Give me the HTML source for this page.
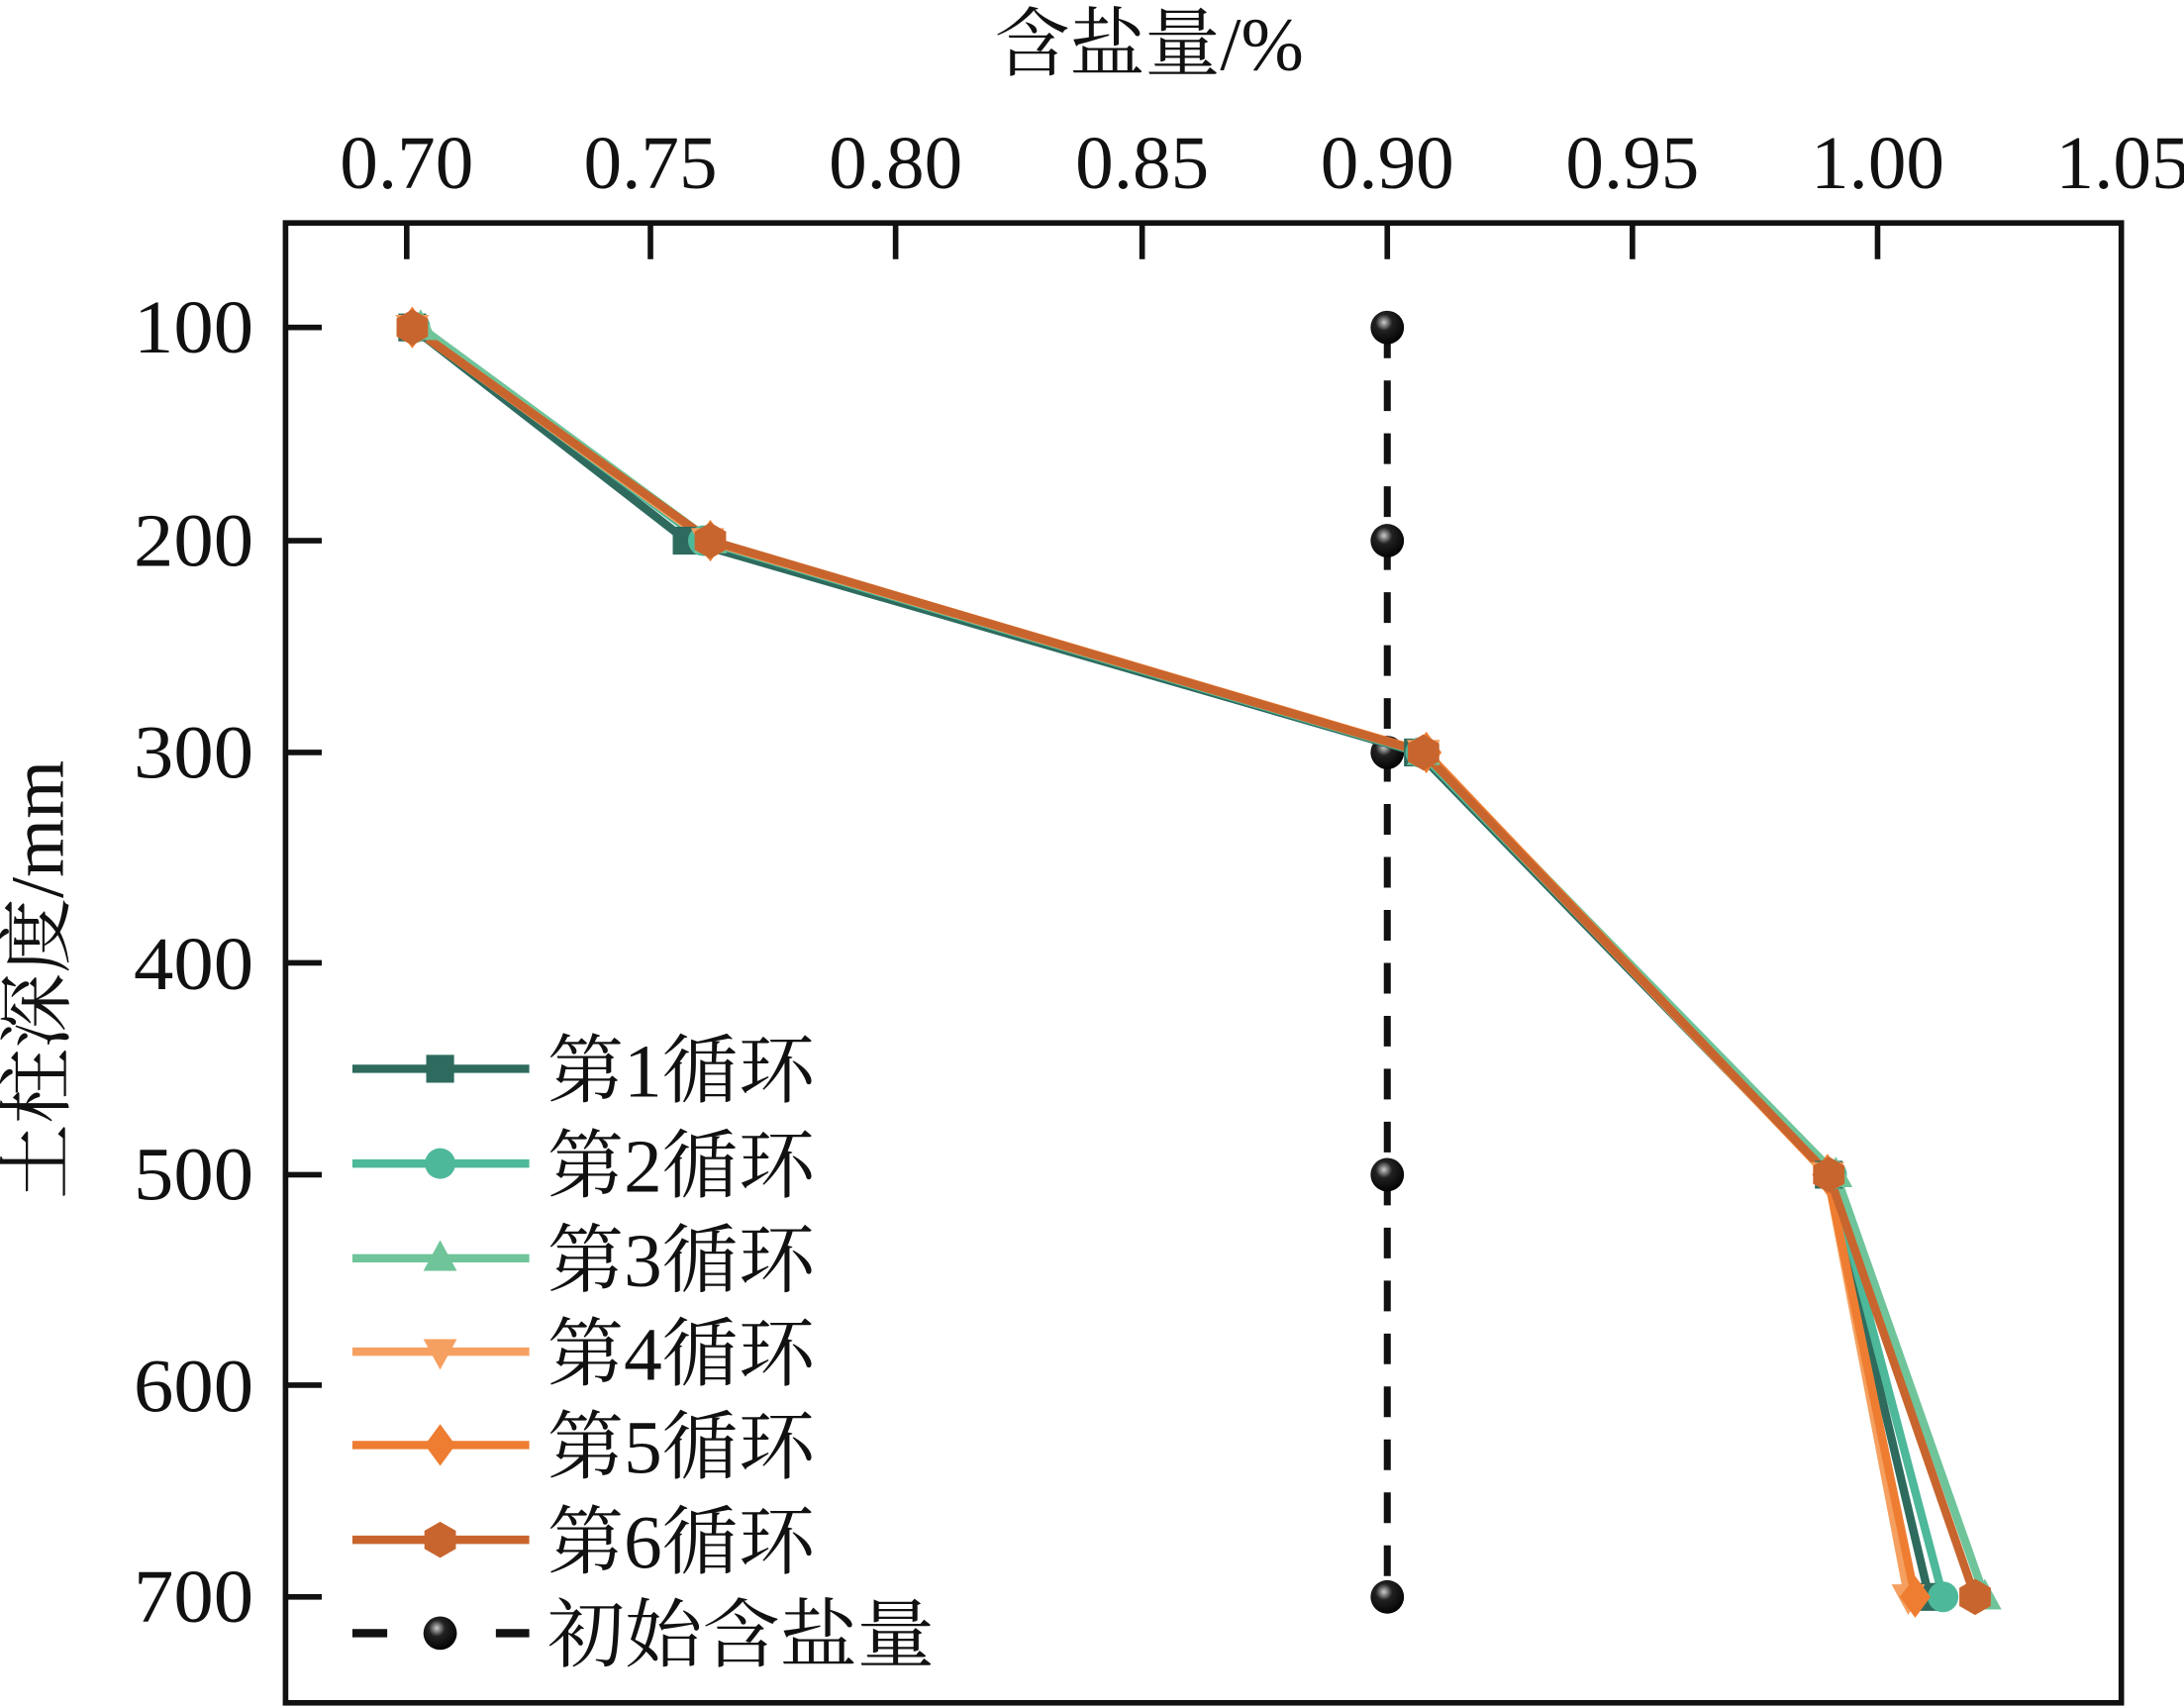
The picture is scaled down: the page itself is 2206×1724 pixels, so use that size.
<!DOCTYPE html>
<html><head><meta charset="utf-8"><style>html,body{margin:0;padding:0;background:#fff}svg{display:block}</style></head>
<body>
<svg width="2206" height="1724" viewBox="0 0 1568 1225" preserveAspectRatio="none" xmlns="http://www.w3.org/2000/svg">
<defs>
<polygon id="hex" points="0,-13 11.3,-6.5 11.3,6.5 0,13 -11.3,6.5 -11.3,-6.5"/>
<polygon id="dia" points="0,-15 11,0 0,15 -11,0"/>
<polygon id="tu" points="0,-13 12,9 -12,9"/>
<polygon id="td" points="0,13 12,-9 -12,-9"/>
<rect id="sq" x="-10" y="-10" width="20" height="20"/>
<circle id="ci" r="11"/>
<radialGradient id="bg" cx="0.4" cy="0.35" r="0.7"><stop offset="0" stop-color="#ccc"/><stop offset="0.35" stop-color="#222"/><stop offset="1" stop-color="#000"/></radialGradient>
</defs>
<g font-family="'Liberation Serif','Noto Serif CJK SC',serif" fill="#111">
<text x="825" y="50" font-size="54" text-anchor="middle">含盐量/%</text>
<g font-size="54" text-anchor="middle">
<text x="292" y="135" textLength="96" lengthAdjust="spacingAndGlyphs">0.70</text>
<text x="467" y="135" textLength="96" lengthAdjust="spacingAndGlyphs">0.75</text>
<text x="643" y="135" textLength="96" lengthAdjust="spacingAndGlyphs">0.80</text>
<text x="820" y="135" textLength="96" lengthAdjust="spacingAndGlyphs">0.85</text>
<text x="996" y="135" textLength="96" lengthAdjust="spacingAndGlyphs">0.90</text>
<text x="1172" y="135" textLength="96" lengthAdjust="spacingAndGlyphs">0.95</text>
<text x="1348" y="135" textLength="96" lengthAdjust="spacingAndGlyphs">1.00</text>
<text x="1524" y="135" textLength="96" lengthAdjust="spacingAndGlyphs">1.05</text>
</g>
<g font-size="54" text-anchor="end">
<text x="182" y="253" textLength="86" lengthAdjust="spacingAndGlyphs">100</text>
<text x="182" y="406" textLength="86" lengthAdjust="spacingAndGlyphs">200</text>
<text x="182" y="558" textLength="86" lengthAdjust="spacingAndGlyphs">300</text>
<text x="182" y="710" textLength="86" lengthAdjust="spacingAndGlyphs">400</text>
<text x="182" y="861" textLength="86" lengthAdjust="spacingAndGlyphs">500</text>
<text x="182" y="1013" textLength="86" lengthAdjust="spacingAndGlyphs">600</text>
<text x="182" y="1164" textLength="86" lengthAdjust="spacingAndGlyphs">700</text>
</g>
<text transform="translate(45,703) rotate(-90)" font-size="54" text-anchor="middle">土柱深度/mm</text>
</g>
<rect x="205" y="160" width="1318" height="1062" fill="none" stroke="#111" stroke-width="4"/>
<g stroke="#111" stroke-width="4">
<line x1="292" y1="160" x2="292" y2="186"/><line x1="467" y1="160" x2="467" y2="186"/><line x1="643" y1="160" x2="643" y2="186"/><line x1="820" y1="160" x2="820" y2="186"/><line x1="996" y1="160" x2="996" y2="186"/><line x1="1172" y1="160" x2="1172" y2="186"/><line x1="1348" y1="160" x2="1348" y2="186"/>
<line x1="205" y1="235" x2="231" y2="235"/><line x1="205" y1="388" x2="231" y2="388"/><line x1="205" y1="540" x2="231" y2="540"/><line x1="205" y1="691" x2="231" y2="691"/><line x1="205" y1="843" x2="231" y2="843"/><line x1="205" y1="994" x2="231" y2="994"/><line x1="205" y1="1146" x2="231" y2="1146"/>
</g>
<line x1="996" y1="235" x2="996" y2="1146" stroke="#111" stroke-width="5" stroke-dasharray="22,16"/>
<g fill="url(#bg)"><circle cx="996" cy="235" r="12"/><circle cx="996" cy="388" r="12"/><circle cx="996" cy="540" r="12"/><circle cx="996" cy="843" r="12"/><circle cx="996" cy="1146" r="12"/></g>
<g fill="none" stroke-width="6" stroke-linejoin="round">
<polyline stroke="#2e6b5e" points="296,235 493,388 1018,540 1313,843 1385,1146"/>
<polyline stroke="#4db89a" points="298,235 505,388 1020,540 1315,843 1395,1146"/>
<polyline stroke="#6fc49a" points="302,235 510,388 1022,540 1318,843 1425,1146"/>
<polyline stroke="#f5a060" points="296,235 508,388 1022,540 1312,843 1370,1146"/>
<polyline stroke="#ee7d32" points="296,235 510,388 1024,540 1312,843 1375,1146"/>
<polyline stroke="#c8652e" points="296,235 510,388 1022,540 1313,843 1418,1146"/>
</g>
<g fill="#2e6b5e"><use href="#sq" x="296" y="235"/><use href="#sq" x="493" y="388"/><use href="#sq" x="1018" y="540"/><use href="#sq" x="1313" y="843"/><use href="#sq" x="1385" y="1146"/></g>
<g fill="#4db89a"><use href="#ci" x="298" y="235"/><use href="#ci" x="505" y="388"/><use href="#ci" x="1020" y="540"/><use href="#ci" x="1315" y="843"/><use href="#ci" x="1395" y="1146"/></g>
<g fill="#6fc49a"><use href="#tu" x="302" y="235"/><use href="#tu" x="510" y="388"/><use href="#tu" x="1022" y="540"/><use href="#tu" x="1318" y="843"/><use href="#tu" x="1425" y="1146"/></g>
<g fill="#f5a060"><use href="#td" x="296" y="235"/><use href="#td" x="508" y="388"/><use href="#td" x="1022" y="540"/><use href="#td" x="1312" y="843"/><use href="#td" x="1370" y="1146"/></g>
<g fill="#ee7d32"><use href="#dia" x="296" y="235"/><use href="#dia" x="510" y="388"/><use href="#dia" x="1024" y="540"/><use href="#dia" x="1312" y="843"/><use href="#dia" x="1375" y="1146"/></g>
<g fill="#c8652e"><use href="#hex" x="296" y="235"/><use href="#hex" x="510" y="388"/><use href="#hex" x="1022" y="540"/><use href="#hex" x="1313" y="843"/><use href="#hex" x="1418" y="1146"/></g>
<g stroke-width="6">
<line x1="253" y1="767" x2="380" y2="767" stroke="#2e6b5e"/><use href="#sq" x="316" y="767" fill="#2e6b5e"/>
<line x1="253" y1="835" x2="380" y2="835" stroke="#4db89a"/><use href="#ci" x="316" y="835" fill="#4db89a"/>
<line x1="253" y1="903" x2="380" y2="903" stroke="#6fc49a"/><use href="#tu" x="316" y="903" fill="#6fc49a"/>
<line x1="253" y1="970" x2="380" y2="970" stroke="#f5a060"/><use href="#td" x="316" y="970" fill="#f5a060"/>
<line x1="253" y1="1037" x2="380" y2="1037" stroke="#ee7d32"/><use href="#dia" x="316" y="1037" fill="#ee7d32"/>
<line x1="253" y1="1105" x2="380" y2="1105" stroke="#c8652e"/><use href="#hex" x="316" y="1105" fill="#c8652e"/>
<line x1="253" y1="1172" x2="278" y2="1172" stroke="#111"/><line x1="356" y1="1172" x2="380" y2="1172" stroke="#111"/><circle cx="316" cy="1172" r="12" fill="url(#bg)"/>
</g>
<g font-family="'Liberation Serif','Noto Serif CJK SC',serif" font-size="54" fill="#111">
<text x="393" y="787" textLength="192" lengthAdjust="spacingAndGlyphs">第1循环</text>
<text x="393" y="855" textLength="192" lengthAdjust="spacingAndGlyphs">第2循环</text>
<text x="393" y="923" textLength="192" lengthAdjust="spacingAndGlyphs">第3循环</text>
<text x="393" y="990" textLength="192" lengthAdjust="spacingAndGlyphs">第4循环</text>
<text x="393" y="1057" textLength="192" lengthAdjust="spacingAndGlyphs">第5循环</text>
<text x="393" y="1125" textLength="192" lengthAdjust="spacingAndGlyphs">第6循环</text>
<text x="393" y="1192" textLength="278" lengthAdjust="spacingAndGlyphs">初始含盐量</text>
</g>
</svg>
</body></html>
